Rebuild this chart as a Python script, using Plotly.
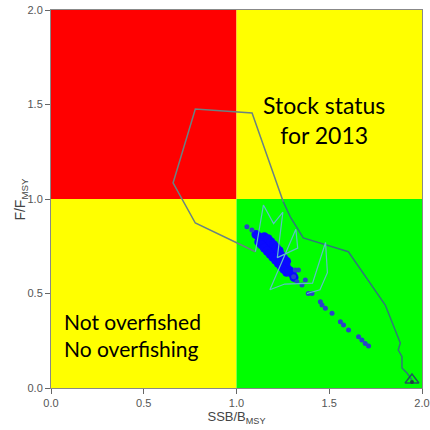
import plotly.graph_objects as go

# Historical trajectory of SSB/Bmsy and F/Fmsy (start year at bottom right)
traj_b = [1.946, 1.919, 1.892, 1.892, 1.872, 1.883, 1.802, 1.603, 1.360, 1.290,
          1.252, 1.084, 0.778, 0.658, 0.778, 1.102,
          1.145, 1.20, 1.25, 1.22, 1.33, 1.32, 1.18, 1.26, 1.41, 1.48, 1.49, 1.45, 1.38]
traj_f = [0.042, 0.079, 0.106, 0.166, 0.201, 0.238, 0.439, 0.721, 0.794, 0.906,
          0.986, 1.455, 1.476, 1.085, 0.873, 0.721,
          0.968, 0.87, 0.93, 0.69, 0.74, 0.84, 0.52, 0.55, 0.555, 0.77, 0.61, 0.52, 0.50]

# Terminal-year uncertainty draws: dense core
core_b = [1.12, 1.135, 1.15, 1.165, 1.18, 1.195, 1.21, 1.225, 1.24, 1.255, 1.27, 1.285, 1.30,
          1.15, 1.165, 1.18, 1.195, 1.21, 1.225, 1.24, 1.255, 1.27,
          1.12, 1.135, 1.15, 1.165, 1.18, 1.195, 1.21, 1.225, 1.24, 1.255, 1.27,
          1.17, 1.185, 1.20, 1.215, 1.23,
          1.105, 1.31]
core_f = [0.800, 0.784, 0.768, 0.751, 0.735, 0.719, 0.703, 0.687, 0.670, 0.654, 0.638, 0.622, 0.606,
          0.800, 0.783, 0.767, 0.751, 0.735, 0.719, 0.703, 0.686, 0.670,
          0.773, 0.757, 0.741, 0.725, 0.709, 0.693, 0.677, 0.660, 0.644, 0.628, 0.612,
          0.790, 0.774, 0.758, 0.742, 0.726,
          0.812, 0.585]

# Terminal-year uncertainty draws: outlying points
tail_b = [1.056, 1.083, 1.317, 1.308, 1.326, 1.353, 1.371, 1.334, 1.387, 1.407,
          1.452, 1.461, 1.479, 1.515, 1.560, 1.577, 1.604, 1.658, 1.676, 1.694, 1.712]
tail_f = [0.853, 0.836, 0.624, 0.589, 0.562, 0.545, 0.571, 0.624, 0.500, 0.500,
          0.457, 0.439, 0.422, 0.395, 0.351, 0.333, 0.307, 0.271, 0.254, 0.236, 0.222]

tick_vals = [0.0, 0.5, 1.0, 1.5, 2.0]

fig = go.Figure()

fig.add_trace(go.Scatter(x=core_b, y=core_f, mode="markers",
                         marker=dict(color="#0a0aff", size=9, line=dict(width=0))))
fig.add_trace(go.Scatter(x=tail_b, y=tail_f, mode="markers",
                         marker=dict(color="#2a42c8", size=5, line=dict(width=0))))

# Trajectory drawn in three colour stages: early, middle, recent
stages = [(0, 11, "#2e7a78", 1.5), (10, 16, "#6a8282", 1.5), (15, len(traj_b), "#5cc0c8", 1.2)]
for a, b, col, w in stages:
    fig.add_trace(go.Scatter(x=traj_b[a:b], y=traj_f[a:b], mode="lines",
                             line=dict(color=col, width=w), hoverinfo="skip"))

# Start-year marker
fig.add_trace(go.Scatter(x=[traj_b[0]], y=[traj_f[0]], mode="markers",
                         marker=dict(symbol="triangle-up-open", size=12,
                                     color="#1e5a5a", line=dict(width=1.5))))
fig.add_trace(go.Scatter(x=[traj_b[0]], y=[traj_f[0] - 0.01], mode="markers",
                         marker=dict(size=4, color="#1e4040")))

# Kobe quadrants
quads = [(0, 1, 1, 2, "#ff0000"), (1, 2, 1, 2, "#ffff00"),
         (0, 1, 0, 1, "#ffff00"), (1, 2, 0, 1, "#00ff00")]
for x0, x1, y0, y1, col in quads:
    fig.add_shape(type="rect", x0=x0, x1=x1, y0=y0, y1=y1, fillcolor=col,
                  line=dict(width=0), layer="below")

fig.add_annotation(x=1.471, y=1.42, text="Stock status<br>for 2013", showarrow=False,
                   font=dict(family="Lato", size=23, color="#000000"), align="center")
fig.add_annotation(x=0.061, y=0.28, xanchor="left", text="Not overfished<br>No overfishing",
                   showarrow=False, font=dict(family="Lato", size=21, color="#000000"),
                   align="left")

# Vertical axis label
fig.add_annotation(xref="paper", yref="paper", x=-0.082, y=0.5, textangle=-90,
                   xanchor="center", yanchor="middle", showarrow=False,
                   text="F/F<sub>MSY</sub>",
                   font=dict(family="Liberation Sans", size=14, color="#444444"))

axis_common = dict(range=[0, 2], tickvals=tick_vals, tickformat=".1f", ticks="outside",
                   ticklen=5, tickcolor="#666666", showgrid=False, zeroline=False,
                   showline=True, linecolor="#888888", mirror=True, automargin=False,
                   tickfont=dict(family="Liberation Sans", size=11, color="#555555"))

fig.update_layout(
    width=430, height=430, showlegend=False,
    margin=dict(l=51, r=8, t=10, b=42),
    plot_bgcolor="white", paper_bgcolor="white",
    xaxis=dict(axis_common,
               title=dict(text="SSB/B<sub>MSY</sub>", standoff=3,
                          font=dict(family="Liberation Sans", size=13, color="#444444"))),
    yaxis=dict(axis_common),
)

fig.write_html("out.html")
